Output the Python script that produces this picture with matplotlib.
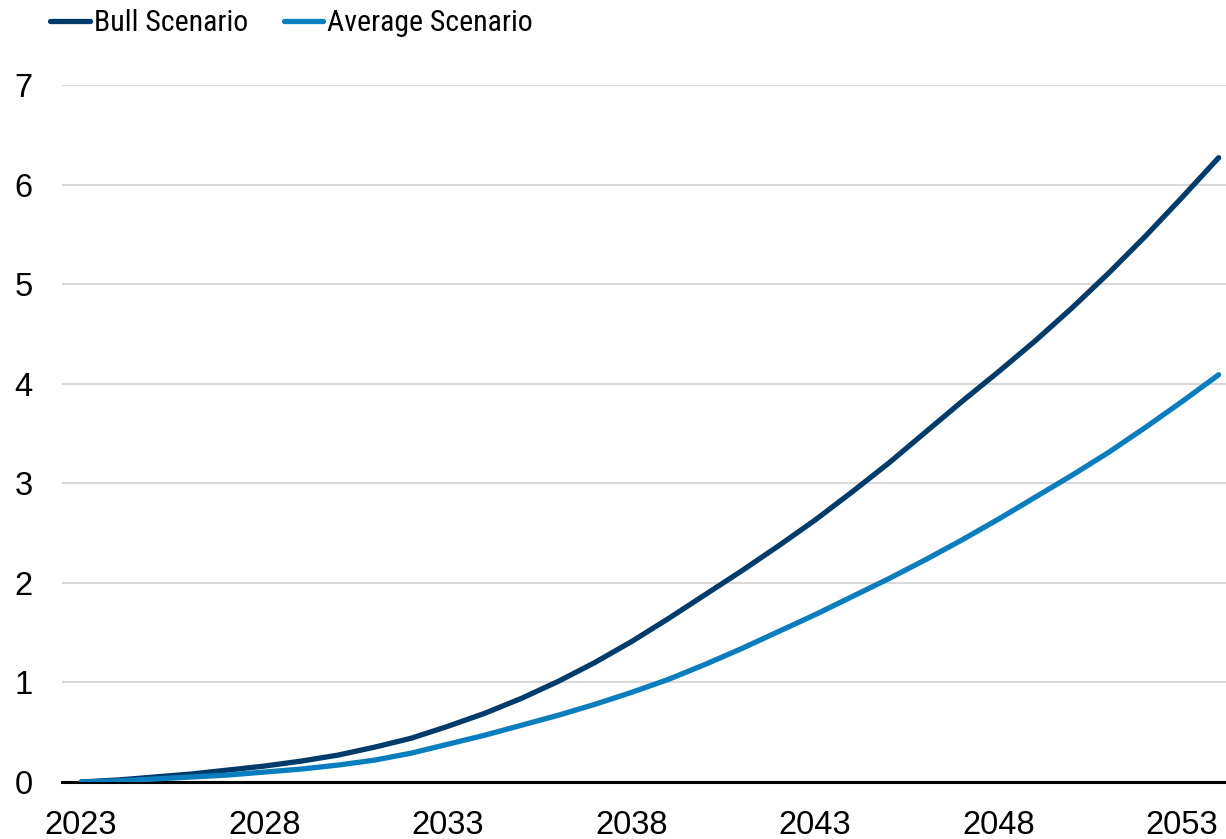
import matplotlib
matplotlib.use("Agg")
import matplotlib.pyplot as plt
from matplotlib.font_manager import FontProperties

# Projection by year, two scenarios
years = list(range(2023, 2055))
bull = [0.00, 0.02, 0.05, 0.08, 0.12, 0.16, 0.21, 0.27, 0.35, 0.44,
        0.56, 0.69, 0.84, 1.01, 1.20, 1.41, 1.64, 1.88, 2.12, 2.37,
        2.63, 2.91, 3.20, 3.51, 3.82, 4.12, 4.43, 4.76, 5.11, 5.48,
        5.87, 6.27]
average = [0.00, 0.01, 0.03, 0.05, 0.07, 0.10, 0.13, 0.17, 0.22, 0.29,
           0.38, 0.47, 0.57, 0.67, 0.78, 0.90, 1.03, 1.18, 1.34, 1.51,
           1.68, 1.86, 2.04, 2.23, 2.43, 2.64, 2.86, 3.08, 3.31, 3.56,
           3.82, 4.09]
series_names = ["Bull Scenario", "Average Scenario"]
x_tick_years = [2023, 2028, 2033, 2038, 2043, 2048, 2053]
y_ticks = [0, 1, 2, 3, 4, 5, 6, 7]

plt.rcParams["font.family"] = ["Liberation Sans", "DejaVu Sans"]

fig = plt.figure(figsize=(12.26, 8.39), dpi=100)
ax = fig.add_axes([62 / 1226, 57 / 839, 1 - 62 / 1226, (782 - 85) / 839])

c_bull = "#003B6A"
c_avg = "#0A7DBE"
ax.plot(years, bull, color=c_bull, lw=3.8, solid_capstyle="round",
        solid_joinstyle="round", label=series_names[0], zorder=3)
ax.plot(years, average, color=c_avg, lw=3.8, solid_capstyle="round",
        solid_joinstyle="round", label=series_names[1], zorder=4)

ax.set_xlim(2022.48, 2054.2)
ax.set_ylim(0, 7)
ax.set_xticks(x_tick_years)
ax.set_xticklabels([str(y) for y in x_tick_years])
ax.set_yticks(y_ticks)

ax.grid(axis="y", color="#D9D9D9", lw=1.5)
ax.set_axisbelow(True)
for side in ["top", "right", "left"]:
    ax.spines[side].set_visible(False)
ax.spines["bottom"].set_color("black")
ax.spines["bottom"].set_linewidth(2.2)
ax.spines["bottom"].set_zorder(2)

ax.tick_params(axis="both", length=0, labelsize=23.5, colors="black")
ax.tick_params(axis="y", pad=21)
ax.tick_params(axis="x", pad=20)

legend_font = FontProperties(family=["Roboto Condensed", "Liberation Sans"], size=21.5)
leg = fig.legend(loc="center left", bbox_to_anchor=(50 / 1226, 1 - 23 / 839), ncol=2,
                 frameon=False, prop=legend_font, handlelength=1.33,
                 handletextpad=0.13, columnspacing=1.2, borderaxespad=0.0,
                 borderpad=0.0)
for h in leg.get_lines():
    h.set_linewidth(3.8)
    h.set_solid_capstyle("round")

fig.savefig("out.png", dpi=100)
